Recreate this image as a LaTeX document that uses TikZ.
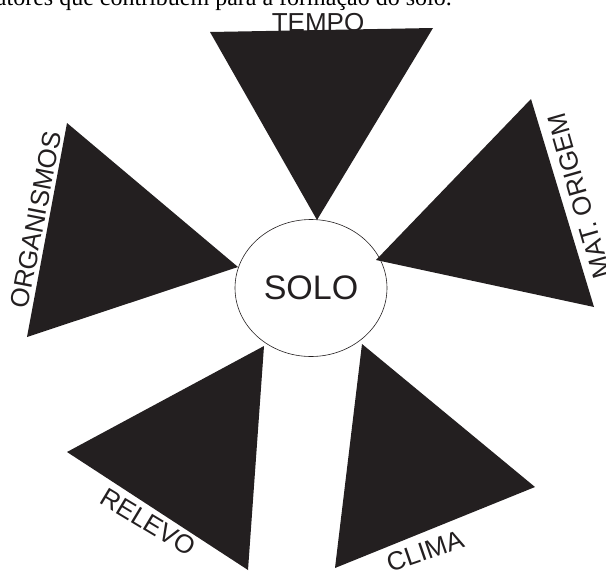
\documentclass[tikz,border=0pt]{standalone}
\usepackage{fontspec}
\setmainfont{Liberation Serif}
\newfontfamily\arialfont{Liberation Sans}
\usepackage{xcolor}
\usepackage{tikz}
\usetikzlibrary{shapes}
\definecolor{tinta}{HTML}{231F20}
\tikzstyle{cunha}=[fill=tinta, draw=none]
\tikzstyle{fator}=[text=tinta, inner sep=0pt,% rotulos ao longo dos triangulos
font=\arialfont\fontsize{26}{26}\selectfont]
\tikzstyle{centro}=[ellipse, draw=tinta, line width=0.6pt, inner sep=0pt,
minimum width=152pt, minimum height=137pt, text=tinta,
font=\arialfont\fontsize{34}{34}\selectfont]

\begin{document}
\begin{tikzpicture}[x=1pt,y=-1pt]
\useasboundingbox (0,0) rectangle (606,571);
\node[anchor=base east, inner sep=0pt, font=\fontsize{24}{24}\selectfont] (titulo) at (452,5) {atores que contribuem para a formação do solo.};
\node[fator, anchor=base] (tempo) at (318,31) {TEMPO};
\node[fator, rotate=79] (organismos) at (36,220) {ORGANISMOS};
\node[fator, rotate=106] (origem) at (579,196) {MAT. ORIGEM};
\node[fator, rotate=-31] (relevo) at (148,522) {RELEVO};
\node[fator, rotate=19] (clima) at (425,551) {CLIMA};
\node[centro] (solo) at (311,288) {SOLO};
\coordinate (t1) at (210,32);
\coordinate (t2) at (433,28);
\coordinate (t3) at (317,220);
\coordinate (o1) at (67,123);
\coordinate (o2) at (27,337);
\coordinate (o3) at (238,267);
\coordinate (m1) at (531,99);
\coordinate (m2) at (594,307);
\coordinate (m3) at (376,260);
\coordinate (r1) at (264,346);
\coordinate (r2) at (67,452);
\coordinate (r3) at (248,570);
\coordinate (c1) at (362,344);
\coordinate (c2) at (535,487);
\coordinate (c3) at (335,568);
\fill[cunha] (t1) -- (t2) -- (t3) -- cycle;
\fill[cunha] (o1) -- (o2) -- (o3) -- cycle;
\fill[cunha] (m1) -- (m2) -- (m3) -- cycle;
\fill[cunha] (r1) -- (r2) -- (r3) -- cycle;
\fill[cunha] (c1) -- (c2) -- (c3) -- cycle;
\end{tikzpicture}
\end{document}
